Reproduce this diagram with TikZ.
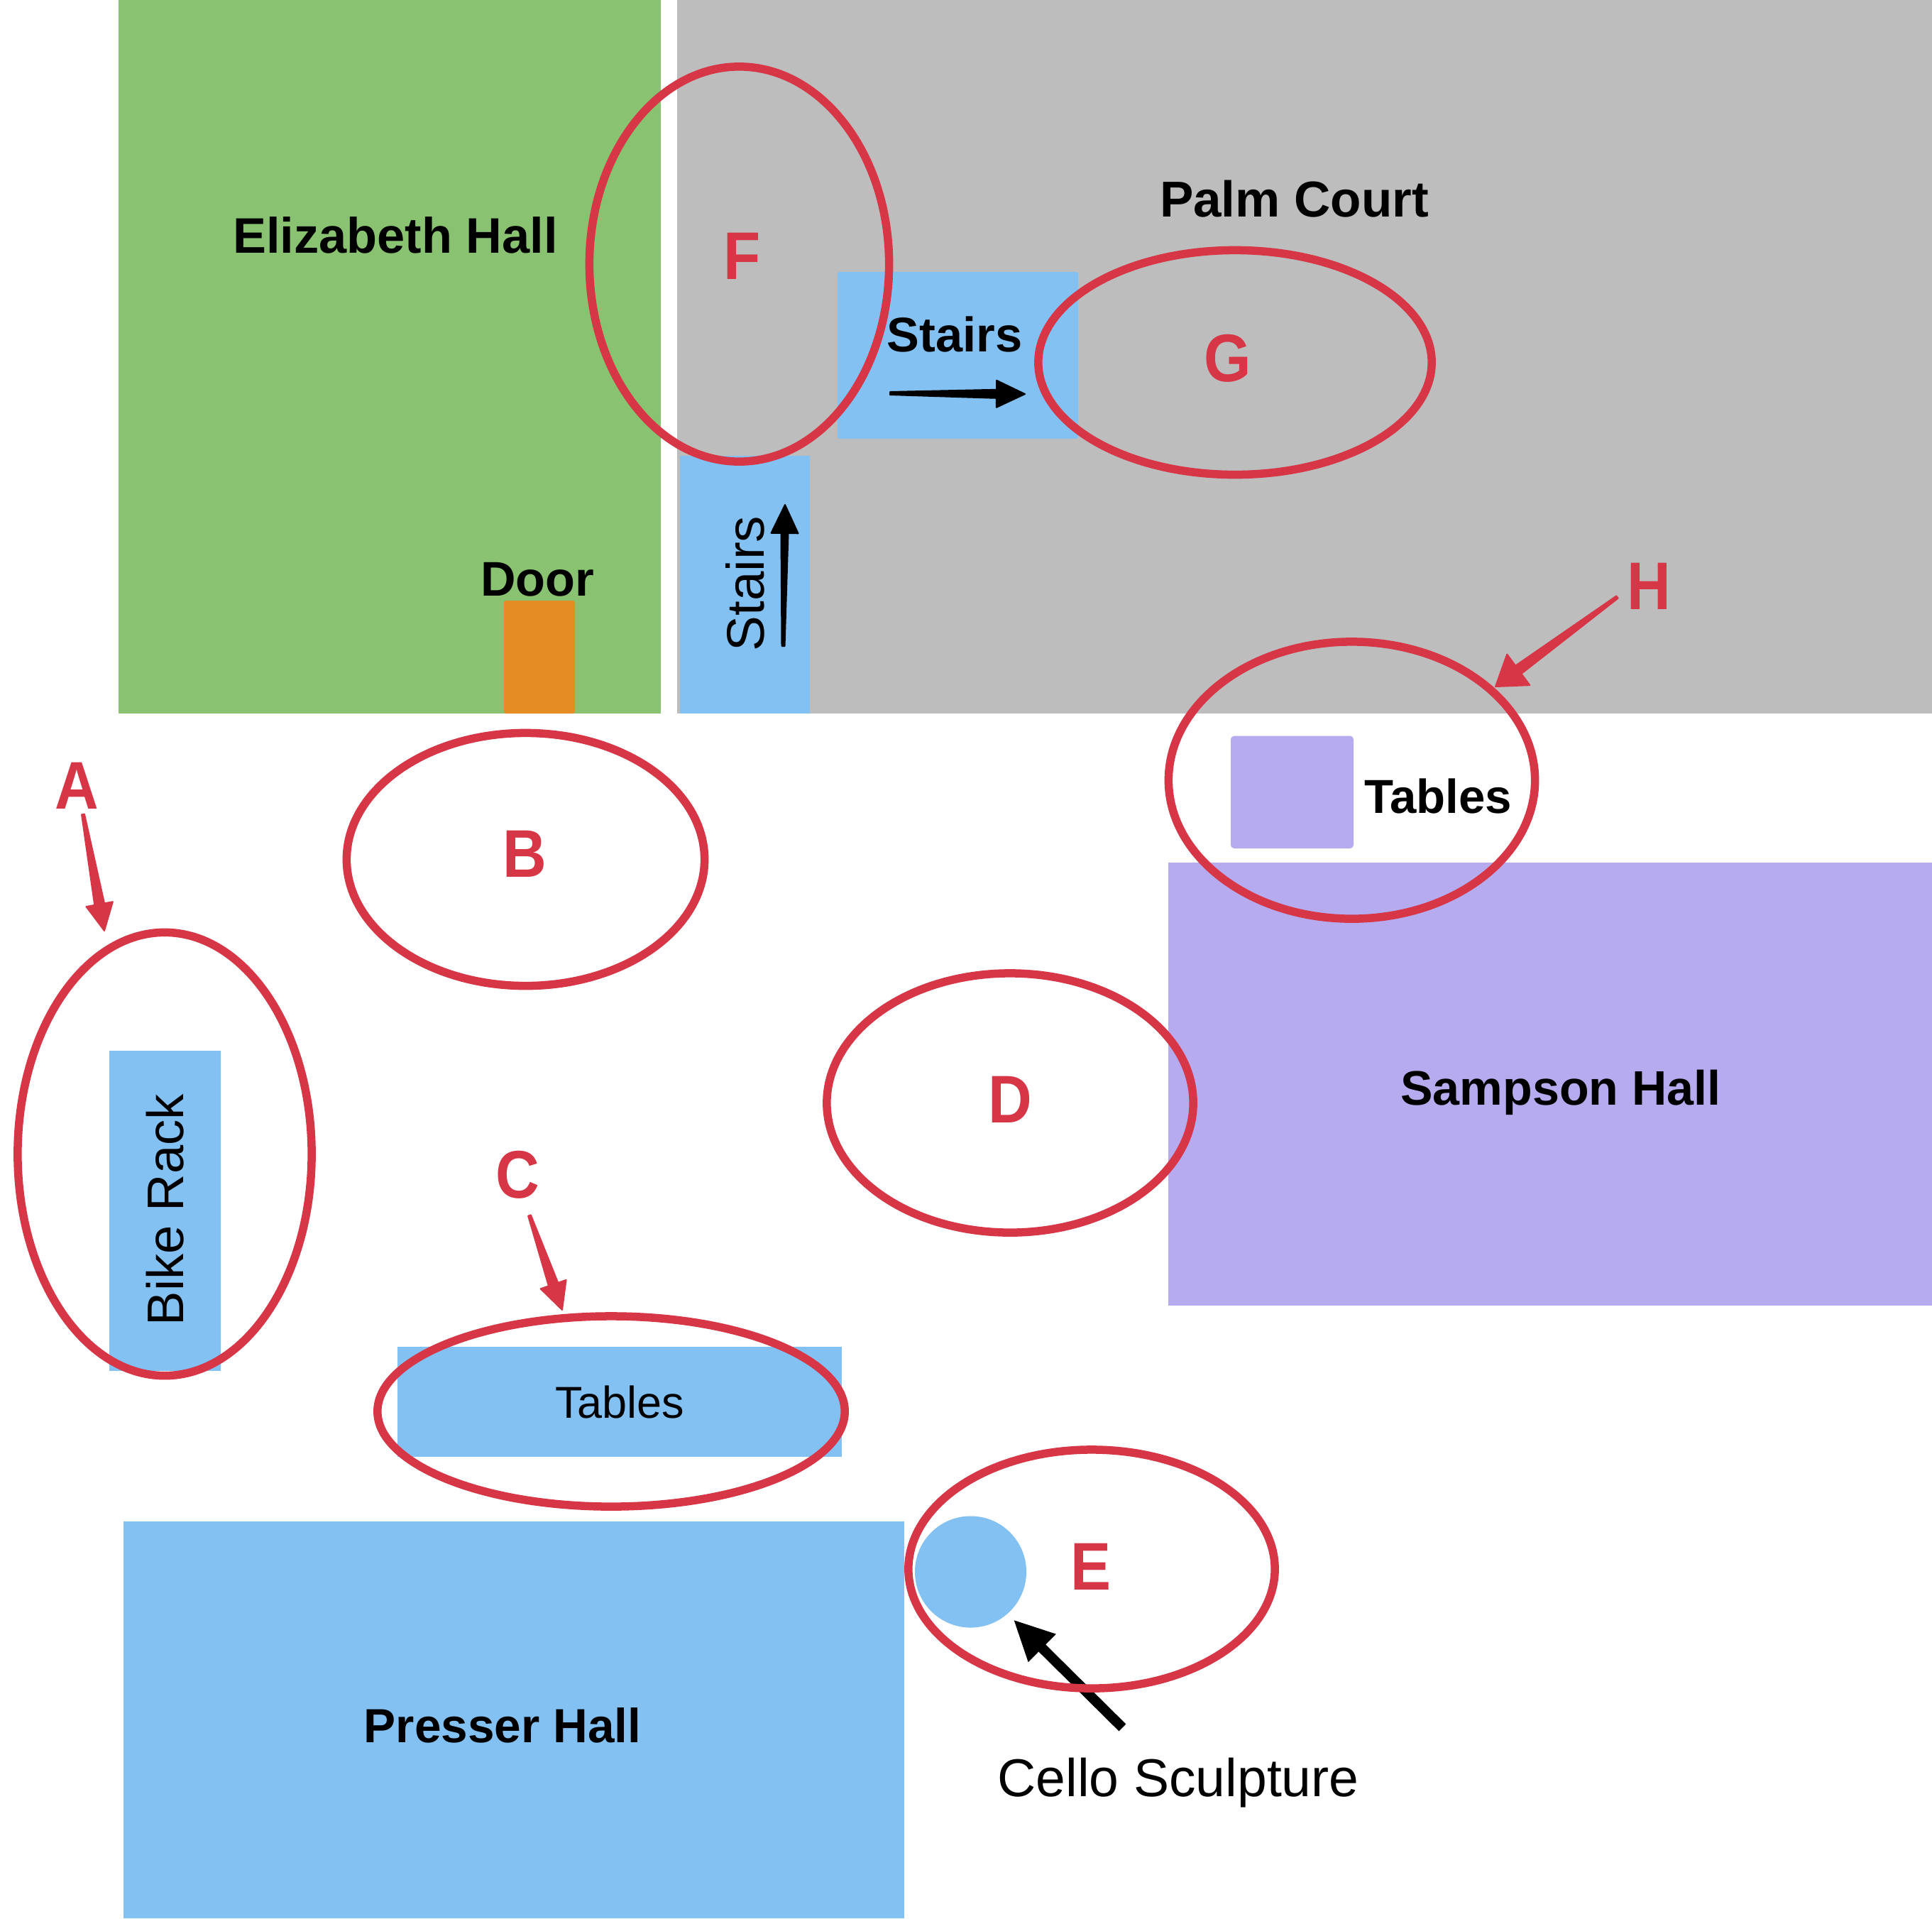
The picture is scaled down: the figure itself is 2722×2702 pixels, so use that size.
\documentclass[tikz,border=0pt]{standalone}
\usepackage{fontspec}
\setmainfont{Liberation Sans}
\usetikzlibrary{shapes.geometric,calc}
\definecolor{hallgreen}{RGB}{137,194,112}
\definecolor{courtgray}{RGB}{189,189,189}
\definecolor{hallblue}{RGB}{131,193,243}
\definecolor{hallpurple}{RGB}{182,171,238}
\definecolor{doororange}{RGB}{227,141,36}
\definecolor{markred}{RGB}{214,54,70}
\newcommand{\fsz}[1]{\fontsize{#1}{#1}\selectfont}
\newcommand{\ltr}[1]{\scalebox{0.9}[1]{#1}}
% tapered arrow: style, tail, tip, tail half-w, shaft half-w at head, head length, head half-w (cm)
\newcommand{\taper}[7]{%
  \coordinate (hb) at ($(#3)!#6cm!(#2)$);
  \filldraw[#1] ($(#2)!#4cm!90:(#3)$) -- ($(hb)!#5cm!-90:(#2)$) -- ($(hb)!#7cm!-90:(#2)$) -- (#3)
    -- ($(hb)!#7cm!90:(#2)$) -- ($(hb)!#5cm!90:(#2)$) -- ($(#2)!#4cm!-90:(#3)$) -- cycle;}
\tikzset{
  ring/.style={draw=markred,line width=0.115cm,ellipse,inner sep=0pt,outer sep=0pt,fill=none},
  letter/.style={text=markred,inner sep=0pt,font=\fsz{27}\bfseries},
  boldlabel/.style={text=black,inner sep=0pt,font=\fsz{19.5}\bfseries},
  thinlabel/.style={text=black,inner sep=0pt},
  redarrow/.style={fill=markred,draw=markred,line width=0.02cm,line join=round},
  blackarrow/.style={fill=black,draw=black,line width=0.02cm,line join=round},
  sharparrow/.style={fill=black,draw=black,line width=0.01cm,line join=miter}
}
\begin{document}
\begin{tikzpicture}[x=0.01cm,y=-0.01cm]
\useasboundingbox (0,0) rectangle (2722,2702);
\fill[white] (0,0) rectangle (2722,2702);
% regions
\fill[hallgreen] (167,0) rectangle (931,1005);
\fill[courtgray] (954,0) rectangle (2722,1005);
\fill[hallblue,rounded corners=0.03cm] (1180,383) rectangle (1519,618);
\fill[hallblue] (958,642) rectangle (1141,1005);
\fill[doororange,rounded corners=0.03cm] (710,846) rectangle (810,1005);
\fill[hallpurple,rounded corners=0.05cm] (1734,1036.5) rectangle (1907,1195);
\fill[hallpurple] (1646,1215) rectangle (2722,1838.5);
\fill[hallblue] (154,1480) rectangle (310.5,1931);
\fill[hallblue] (560,1897) rectangle (1186,2052);
\fill[hallblue] (174,2143) rectangle (1274,2702);
\fill[hallblue] (1367.5,2214) circle[radius=0.785cm];
% labels
\node[boldlabel,font=\fsz{20.0}\bfseries] (eliz) at (557,331) {Elizabeth Hall};
\node[boldlabel,font=\fsz{20.2}\bfseries] (palm) at (1823.5,280) {Palm Court};
\node[boldlabel,font=\fsz{19.5}\bfseries] (stairsh) at (1345,471) {Stairs};
\node[boldlabel] (door) at (757,816) {Door};
\node[boldlabel,font=\fsz{19.1}\bfseries] (tabh) at (2026,1121) {Tables};
\node[boldlabel,font=\fsz{19.4}\bfseries,anchor=base] (sampson) at (2199,1556) {Sampson Hall};
\node[boldlabel,font=\fsz{19.2}\bfseries] (presser) at (708,2430) {Presser Hall};
\node[thinlabel,font=\fsz{21.2},rotate=90] (stairsv) at (1050,822) {Stairs};
\node[thinlabel,font=\fsz{20.6},rotate=90] (bike) at (233,1704) {Bike Rack};
\node[thinlabel,font=\fsz{17.9}] (tabc) at (873,1975) {Tables};
\node[thinlabel,font=\fsz{21.35},anchor=base] (cello) at (1660,2530) {Cello Sculpture};
% letters
\node[letter] (A) at (108,1107) {\ltr{A}};
\node[letter] (B) at (739.5,1203) {\ltr{B}};
\node[letter] (C) at (729,1655) {\ltr{C}};
\node[letter] (D) at (1423,1549) {\ltr{D}};
\node[letter] (E) at (1537,2207) {\ltr{E}};
\node[letter] (F) at (1046,360.5) {\ltr{F}};
\node[letter] (G) at (1730,505) {\ltr{G}};
\node[letter] (H) at (2323.5,826) {\ltr{H}};
% arrows
\coordinate (sht) at (1254,554); \coordinate (shp) at (1444,555);
\taper{blackarrow}{sht}{shp}{0.02}{0.06}{0.40}{0.19}
\coordinate (svt) at (1103.5,910); \coordinate (svp) at (1106,711);
\taper{blackarrow}{svt}{svp}{0.02}{0.05}{0.40}{0.19}
\coordinate (cet) at (1581,2433); \coordinate (cep) at (1429.5,2283);
\taper{sharparrow}{cet}{cep}{0.065}{0.065}{0.54}{0.27}
\coordinate (at) at (117,1147); \coordinate (ap) at (147,1311);
\taper{redarrow}{at}{ap}{0.02}{0.07}{0.38}{0.19}
\coordinate (ct) at (746,1712); \coordinate (cp) at (792,1845);
\taper{redarrow}{ct}{cp}{0.02}{0.07}{0.38}{0.19}
\coordinate (ht) at (2278.5,841); \coordinate (hp) at (2107,967);
\taper{redarrow}{ht}{hp}{0.02}{0.07}{0.40}{0.27}
% rings
\node[ring,minimum width=4.14cm,minimum height=6.24cm] (ra) at (232,1625.5) {};
\node[ring,minimum width=5.04cm,minimum height=3.56cm] (rb) at (740.5,1210.5) {};
\node[ring,minimum width=6.58cm,minimum height=2.68cm] (rc) at (861,1988) {};
\node[ring,minimum width=5.16cm,minimum height=3.65cm] (rd) at (1423,1553.5) {};
\node[ring,minimum width=5.16cm,minimum height=3.36cm] (re) at (1538,2210) {};
\node[ring,minimum width=4.22cm,minimum height=5.56cm] (rf) at (1041.5,372) {};
\node[ring,minimum width=5.54cm,minimum height=3.16cm] (rg) at (1740,510.5) {};
\node[ring,minimum width=5.16cm,minimum height=3.90cm] (rh) at (1904.5,1099) {};
\end{tikzpicture}
\end{document}
